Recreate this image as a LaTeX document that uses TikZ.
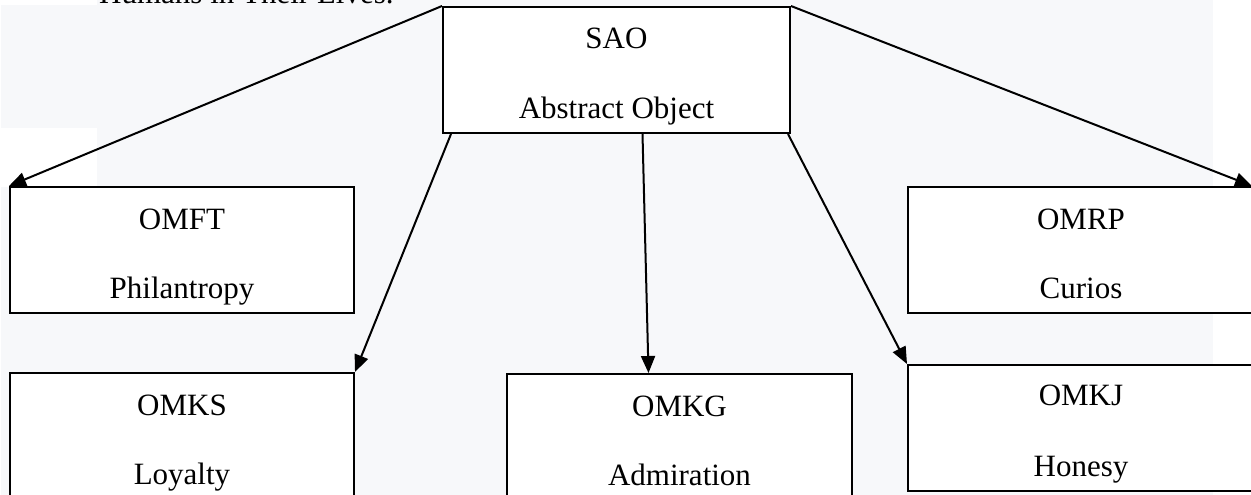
\documentclass[tikz,border=0pt]{standalone}
\usepackage{fontspec}
\setmainfont{Liberation Serif}
\usetikzlibrary{arrows.meta, positioning, calc}
\definecolor{pagegray}{RGB}{247, 248, 250}

\begin{document}
\begin{tikzpicture}[x=1pt, y=-1pt,
  box/.style={draw=black, fill=white, line width=2pt, minimum width=#1, minimum height=126pt, inner sep=0pt},
  lbl/.style={font=\fontsize{31}{36}\selectfont, anchor=base, inner sep=0pt},
  arr/.style={line width=2pt, -{Triangle[length=17pt, width=14pt]}}]
  \useasboundingbox (0,0) rectangle (1251,495);
  \clip (0,0) rectangle (1251,495);

  % page shading
  \fill[pagegray] (1,0) rectangle (1213,495);
  \fill[white] (0,0) rectangle (97,5);
  \fill[white] (0,128) rectangle (97,187);

  % text line above the figure
  \node[lbl, anchor=base west] (textline) at (99,4) {Humans in Their Lives.};

  % SAO box
  \node[box=347pt] (sao) at (616.5,70) {};
  \node[lbl] (saoA) at ([yshift=-43pt]sao.north) {SAO};
  \node[lbl] (saoB) at ([yshift=-112pt]sao.north) {Abstract Object};

  % middle row
  \node[box=344pt] (omft) at (182,250) {};
  \node[lbl] (omftA) at ([yshift=-43pt]omft.north) {OMFT};
  \node[lbl] (omftB) at ([yshift=-112pt]omft.north) {Philantropy};

  \node[box=346pt] (omrp) at (1081,250) {};
  \node[lbl] (omrpA) at ([yshift=-43pt]omrp.north) {OMRP};
  \node[lbl] (omrpB) at ([yshift=-112pt]omrp.north) {Curios};

  % bottom row
  \node[box=344pt] (omks) at (182,436) {};
  \node[lbl] (omksA) at ([yshift=-43pt]omks.north) {OMKS};
  \node[lbl] (omksB) at ([yshift=-112pt]omks.north) {Loyalty};

  \node[box=345pt] (omkg) at (679.5,437) {};
  \node[lbl] (omkgA) at ([yshift=-43pt]omkg.north) {OMKG};
  \node[lbl] (omkgB) at ([yshift=-112pt]omkg.north) {Admiration};

  \node[box=346pt] (omkj) at (1081,428) {};
  \node[lbl] (omkjA) at ([yshift=-41pt]omkj.north) {OMKJ};
  \node[lbl] (omkjB) at ([yshift=-112pt]omkj.north) {Honesy};

  % arrows
  \draw[arr] (sao.north west) -- (omft.north west);
  \draw[arr] (sao.north east) -- ([xshift=-3pt]omrp.north east);
  \draw[arr] ([xshift=9pt]sao.south west) -- (omks.north east);
  \draw[arr] ([xshift=26pt]sao.south) -- ([xshift=-31pt]omkg.north);
  \draw[arr] ([xshift=-3pt]sao.south east) -- (omkj.north west);
\end{tikzpicture}
\end{document}
